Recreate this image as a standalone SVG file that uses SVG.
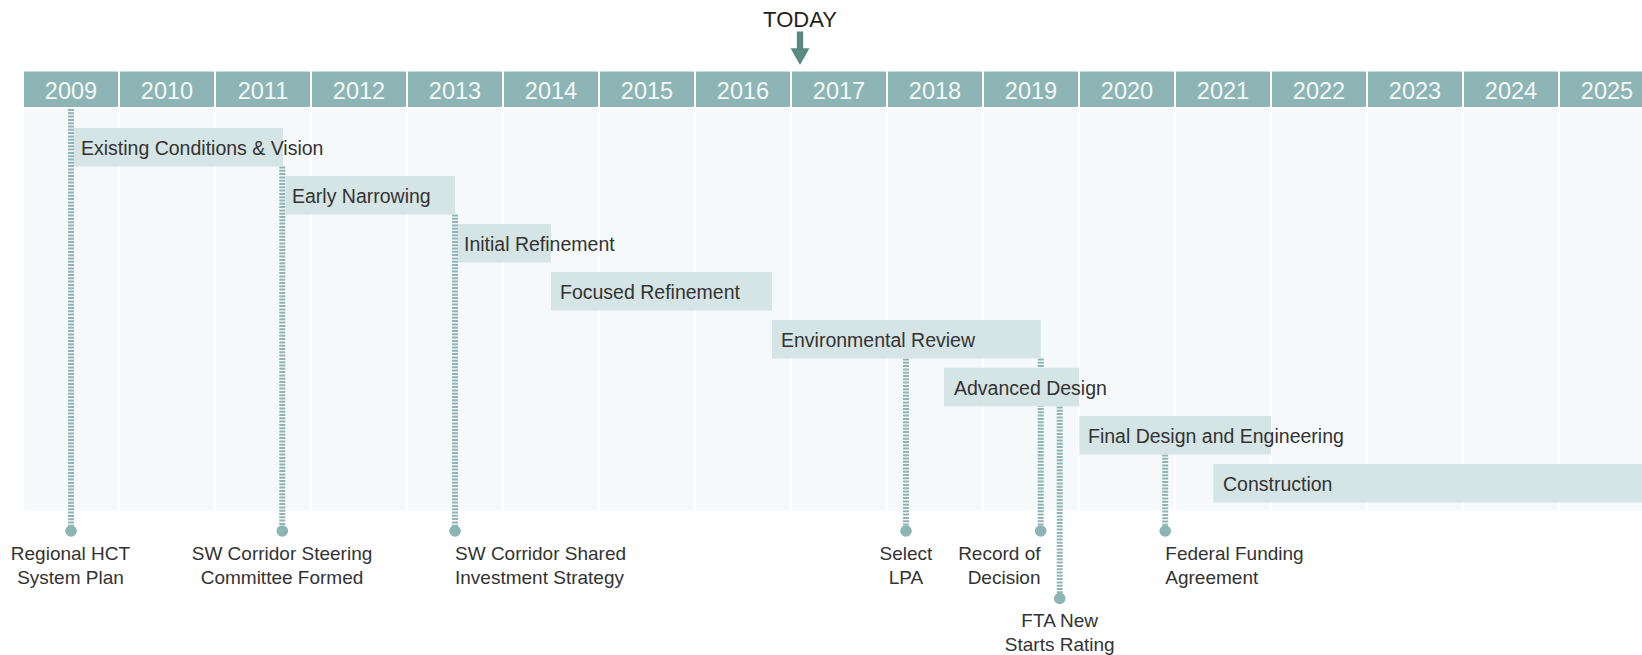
<svg xmlns="http://www.w3.org/2000/svg" width="1642" height="655" viewBox="0 0 1642 655">
  <style>
    .hdr { fill: #8db5b5; }
    .cell { fill: #f5f9fa; }
    .yr { font-family: "Liberation Sans", Arial, sans-serif; font-size: 23.5px; fill: #f4f8f8; text-anchor: middle; }
    .bar { fill: #d5e4e4; }
    .btxt { font-family: "Liberation Sans", Arial, sans-serif; font-size: 19.5px; fill: #333333; }
    .lbl { font-family: "Liberation Sans", Arial, sans-serif; font-size: 19px; fill: #333333; }
    .mid { text-anchor: middle; }
    .end { text-anchor: end; }
    .lead { stroke: #8db5b5; stroke-width: 6; stroke-dasharray: 2 1.3; fill: none; }
    .dot { fill: #8db5b5; }
  </style>

  <rect width="1642" height="655" fill="#ffffff"/>

  <!-- TODAY marker -->
  <g id="today">
    <text x="800" y="26.5" font-family="'Liberation Sans', Arial, sans-serif" font-size="22" fill="#231f20" text-anchor="middle">TODAY</text>
    <rect x="796.8" y="31.5" width="6.4" height="17.5" fill="#5b8a82"/>
    <polygon points="790.5,48.3 809.5,48.3 800,65" fill="#5b8a82"/>
  </g>

  <!-- year grid: header cells and body columns -->
  <g id="years">
    <rect class="hdr" x="24" y="71.5" width="94" height="35.5"/>
    <rect class="hdr" x="120" y="71.5" width="94" height="35.5"/>
    <rect class="hdr" x="216" y="71.5" width="94" height="35.5"/>
    <rect class="hdr" x="312" y="71.5" width="94" height="35.5"/>
    <rect class="hdr" x="408" y="71.5" width="94" height="35.5"/>
    <rect class="hdr" x="504" y="71.5" width="94" height="35.5"/>
    <rect class="hdr" x="600" y="71.5" width="94" height="35.5"/>
    <rect class="hdr" x="696" y="71.5" width="94" height="35.5"/>
    <rect class="hdr" x="792" y="71.5" width="94" height="35.5"/>
    <rect class="hdr" x="888" y="71.5" width="94" height="35.5"/>
    <rect class="hdr" x="984" y="71.5" width="94" height="35.5"/>
    <rect class="hdr" x="1080" y="71.5" width="94" height="35.5"/>
    <rect class="hdr" x="1176" y="71.5" width="94" height="35.5"/>
    <rect class="hdr" x="1272" y="71.5" width="94" height="35.5"/>
    <rect class="hdr" x="1368" y="71.5" width="94" height="35.5"/>
    <rect class="hdr" x="1464" y="71.5" width="94" height="35.5"/>
    <rect class="hdr" x="1560" y="71.5" width="82" height="35.5"/>

    <text class="yr" x="71" y="99">2009</text>
    <text class="yr" x="167" y="99">2010</text>
    <text class="yr" x="263" y="99">2011</text>
    <text class="yr" x="359" y="99">2012</text>
    <text class="yr" x="455" y="99">2013</text>
    <text class="yr" x="551" y="99">2014</text>
    <text class="yr" x="647" y="99">2015</text>
    <text class="yr" x="743" y="99">2016</text>
    <text class="yr" x="839" y="99">2017</text>
    <text class="yr" x="935" y="99">2018</text>
    <text class="yr" x="1031" y="99">2019</text>
    <text class="yr" x="1127" y="99">2020</text>
    <text class="yr" x="1223" y="99">2021</text>
    <text class="yr" x="1319" y="99">2022</text>
    <text class="yr" x="1415" y="99">2023</text>
    <text class="yr" x="1511" y="99">2024</text>
    <text class="yr" x="1607" y="99">2025</text>

    <rect class="cell" x="24" y="108.5" width="94" height="402"/>
    <rect class="cell" x="120" y="108.5" width="94" height="402"/>
    <rect class="cell" x="216" y="108.5" width="94" height="402"/>
    <rect class="cell" x="312" y="108.5" width="94" height="402"/>
    <rect class="cell" x="408" y="108.5" width="94" height="402"/>
    <rect class="cell" x="504" y="108.5" width="94" height="402"/>
    <rect class="cell" x="600" y="108.5" width="94" height="402"/>
    <rect class="cell" x="696" y="108.5" width="94" height="402"/>
    <rect class="cell" x="792" y="108.5" width="94" height="402"/>
    <rect class="cell" x="888" y="108.5" width="94" height="402"/>
    <rect class="cell" x="984" y="108.5" width="94" height="402"/>
    <rect class="cell" x="1080" y="108.5" width="94" height="402"/>
    <rect class="cell" x="1176" y="108.5" width="94" height="402"/>
    <rect class="cell" x="1272" y="108.5" width="94" height="402"/>
    <rect class="cell" x="1368" y="108.5" width="94" height="402"/>
    <rect class="cell" x="1464" y="108.5" width="94" height="402"/>
    <rect class="cell" x="1560" y="108.5" width="82" height="402"/>
  </g>

  <!-- milestone leader lines -->
  <g id="connectors">
    <line class="lead" x1="71" y1="109" x2="71" y2="531"/>
    <line class="lead" x1="282.3" y1="166.5" x2="282.3" y2="531"/>
    <line class="lead" x1="455" y1="214.5" x2="455" y2="531"/>
    <line class="lead" x1="906" y1="358.5" x2="906" y2="531"/>
    <line class="lead" x1="1040.7" y1="358.5" x2="1040.7" y2="531"/>
    <line class="lead" x1="1059.7" y1="406.5" x2="1059.7" y2="598.5"/>
    <line class="lead" x1="1165.2" y1="454.5" x2="1165.2" y2="531"/>
  </g>

  <!-- project phases -->
  <g id="phase-existing">
    <rect class="bar" x="74" y="128" width="209" height="38.5"/>
    <text class="btxt" x="81" y="154.7">Existing Conditions &amp; Vision</text>
  </g>
  <g id="phase-early">
    <rect class="bar" x="285.3" y="176" width="169.7" height="38.5"/>
    <text class="btxt" x="292" y="202.7">Early Narrowing</text>
  </g>
  <g id="phase-initial">
    <rect class="bar" x="458" y="224" width="93" height="38.5"/>
    <text class="btxt" x="464" y="250.7">Initial Refinement</text>
  </g>
  <g id="phase-focused">
    <rect class="bar" x="551" y="272" width="221" height="38.5"/>
    <text class="btxt" x="560" y="298.7">Focused Refinement</text>
  </g>
  <g id="phase-environmental">
    <rect class="bar" x="772" y="320" width="268.7" height="38.5"/>
    <text class="btxt" x="781" y="346.7">Environmental Review</text>
  </g>
  <g id="phase-advanced">
    <rect class="bar" x="944" y="367.8" width="135.3" height="38.5"/>
    <text class="btxt" x="954" y="394.5">Advanced Design</text>
  </g>
  <g id="phase-final">
    <rect class="bar" x="1079.3" y="416" width="191.7" height="38.5"/>
    <text class="btxt" x="1088" y="442.7">Final Design and Engineering</text>
  </g>
  <g id="phase-construction">
    <rect class="bar" x="1213.4" y="464" width="428.6" height="38.5"/>
    <text class="btxt" x="1223" y="490.7">Construction</text>
  </g>

  <!-- milestones -->
  <g id="ms-regional-hct">
    <circle class="dot" cx="71" cy="531" r="5.8"/>
    <text class="lbl mid" x="70.5" y="560">Regional HCT</text>
    <text class="lbl mid" x="70.5" y="584">System Plan</text>
  </g>
  <g id="ms-steering">
    <circle class="dot" cx="282.3" cy="531" r="5.8"/>
    <text class="lbl mid" x="282" y="560">SW Corridor Steering</text>
    <text class="lbl mid" x="282" y="584">Committee Formed</text>
  </g>
  <g id="ms-shared-strategy">
    <circle class="dot" cx="455" cy="531" r="5.8"/>
    <text class="lbl" x="455" y="560">SW Corridor Shared</text>
    <text class="lbl" x="455" y="584">Investment Strategy</text>
  </g>
  <g id="ms-select-lpa">
    <circle class="dot" cx="906" cy="531" r="5.8"/>
    <text class="lbl mid" x="906" y="560">Select</text>
    <text class="lbl mid" x="906" y="584">LPA</text>
  </g>
  <g id="ms-record-of-decision">
    <circle class="dot" cx="1040.7" cy="531" r="5.8"/>
    <text class="lbl end" x="1040.5" y="560">Record of</text>
    <text class="lbl end" x="1040.5" y="584">Decision</text>
  </g>
  <g id="ms-fta-rating">
    <circle class="dot" cx="1059.7" cy="598.5" r="5.8"/>
    <text class="lbl mid" x="1059.7" y="626.7">FTA New</text>
    <text class="lbl mid" x="1059.7" y="650.7">Starts Rating</text>
  </g>
  <g id="ms-funding-agreement">
    <circle class="dot" cx="1165.2" cy="531" r="5.8"/>
    <text class="lbl" x="1165.3" y="560">Federal Funding</text>
    <text class="lbl" x="1165.3" y="584">Agreement</text>
  </g>
</svg>
